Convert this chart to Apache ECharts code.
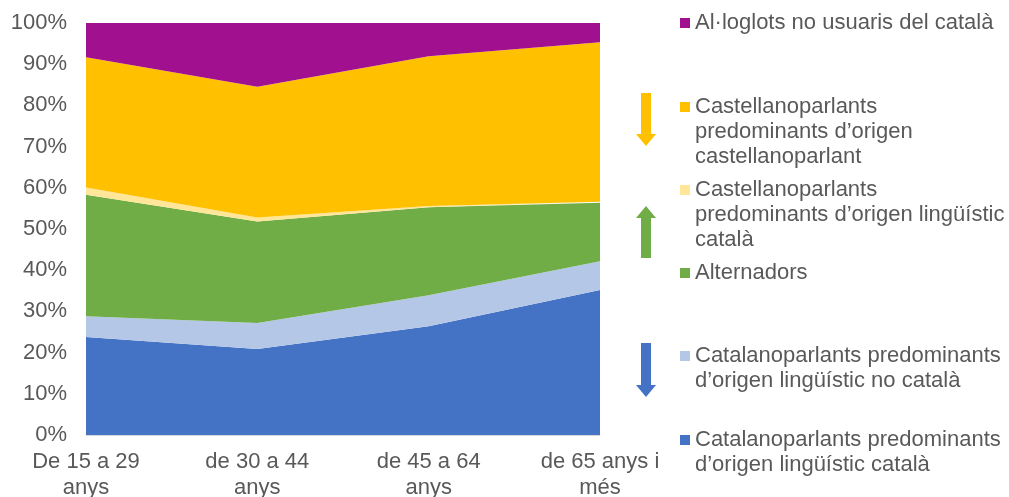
<!DOCTYPE html>
<html>
<head>
<meta charset="utf-8">
<script src="https://cdn.jsdelivr.net/npm/echarts@6/dist/echarts.min.js"></script>
<style>html,body{margin:0;padding:0;background:#fff}#c{width:1009px;height:497px}</style>
</head>
<body>
<div id="c"></div>
<script>
const categories = ['De 15 a 29\nanys', 'de 30 a 44\nanys', 'de 45 a 64\nanys', 'de 65 anys i\nmés'];
const yTicks = [0, 10, 20, 30, 40, 50, 60, 70, 80, 90, 100];
const catOrigCat = [23.8, 20.9, 26.4, 35.2];
const catOrigNoCat = [5.0, 6.3, 7.5, 7.0];
const alternadors = [29.5, 24.6, 21.4, 14.2];
const castOrigCat = [1.8, 1.0, 0.3, 0.2];
const castOrigCast = [31.6, 31.7, 36.3, 38.7];
const alloglots = [8.3, 15.5, 8.1, 4.7];

const names = {
  a: 'Catalanoparlants predominants d’origen lingüístic català',
  b: 'Catalanoparlants predominants d’origen lingüístic no català',
  c: 'Alternadors',
  d: 'Castellanoparlants predominants d’origen lingüístic català',
  e: 'Castellanoparlants predominants d’origen castellanoparlant',
  f: 'Al·loglots no usuaris del català'
};
const labelsWrapped = {
  a: 'Catalanoparlants predominants\nd’origen lingüístic català',
  b: 'Catalanoparlants predominants\nd’origen lingüístic no català',
  c: 'Alternadors',
  d: 'Castellanoparlants\npredominants d’origen lingüístic\ncatalà',
  e: 'Castellanoparlants\npredominants d’origen\ncastellanoparlant',
  f: 'Al·loglots no usuaris del català'
};
const colors = {a:'#4472C4', b:'#B4C7E7', c:'#70AD47', d:'#FFE699', e:'#FFC000', f:'#A0108F'};
const seriesData = [['a', catOrigCat], ['b', catOrigNoCat], ['c', alternadors], ['d', castOrigCat], ['e', castOrigCast], ['f', alloglots]];
const legendFirstLineY = {f: 23, e: 107, d: 190, c: 273, b: 356, a: 440};

const FONT = 'Liberation Sans, Arial, sans-serif';
const TXT = '#595959';
const FS = 22;
const LH = 25;

const series = seriesData.map(([k, arr]) => ({
  name: names[k], type: 'line', stack: 'total', data: arr,
  symbol: 'none', showSymbol: false,
  lineStyle: {width: 0}, itemStyle: {color: colors[k]},
  areaStyle: {color: colors[k], opacity: 1}
}));

// Blank lines are prepended so the marker lines up with the first text line.
const legends = Object.keys(legendFirstLineY).map(k => {
  const lines = labelsWrapped[k].split('\n');
  const n = lines.length;
  const label = '\n'.repeat(n - 1) + lines.join('\n');
  return {
    data: [names[k]], left: 680, top: legendFirstLineY[k] - (n - 1) * LH - LH / 2,
    orient: 'vertical', padding: 0,
    itemWidth: 10, itemHeight: 10, itemGap: 0, icon: 'rect',
    selectedMode: false,
    formatter: () => label,
    textStyle: {fontFamily: FONT, fontSize: FS, color: TXT, lineHeight: LH}
  };
});

function arrow(cx, y1, y2, color, down) {
  const sw = 5, hw = 10, hh = 12;
  let pts;
  if (down) {
    pts = [[cx-sw,y1],[cx+sw,y1],[cx+sw,y2-hh],[cx+hw,y2-hh],[cx,y2],[cx-hw,y2-hh],[cx-sw,y2-hh]];
  } else {
    pts = [[cx-sw,y2],[cx+sw,y2],[cx+sw,y1+hh],[cx+hw,y1+hh],[cx,y1],[cx-hw,y1+hh],[cx-sw,y1+hh]];
  }
  return {type:'polygon', shape:{points: pts}, style:{fill: color}};
}

const chart = echarts.init(document.getElementById('c'), null, {renderer: 'canvas'});
chart.setOption({
  animation: false,
  backgroundColor: '#fff',
  grid: {left: 86, right: 409, top: 23, bottom: 62, containLabel: false, outerBoundsMode: 'none'},
  xAxis: {
    type: 'category', data: categories, boundaryGap: false,
    axisLine: {show: true, lineStyle: {color: '#D9D9D9'}},
    axisTick: {show: false},
    axisLabel: {fontFamily: FONT, fontSize: FS, color: TXT, lineHeight: 26, margin: 14, interval: 0}
  },
  yAxis: {
    type: 'value', min: 0, max: 100, interval: 10,
    axisLine: {show: false}, axisTick: {show: false}, splitLine: {show: false},
    axisLabel: {fontFamily: FONT, fontSize: FS, color: TXT, margin: 19,
      formatter: v => yTicks.includes(v) ? v + '%' : ''}
  },
  legend: legends,
  graphic: [
    arrow(646, 93, 146, '#FFC000', true),
    arrow(646, 206, 258, '#70AD47', false),
    arrow(646, 343, 397, '#4472C4', true)
  ],
  series: series
});
</script>
</body>
</html>
